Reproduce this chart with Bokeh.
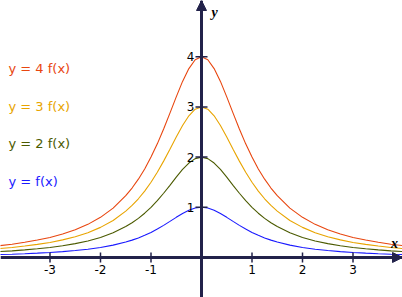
from bokeh.plotting import figure
from bokeh.models import Span, Arrow, NormalHead, Label
from bokeh.core.properties import value
from bokeh.embed import file_html
from bokeh.resources import INLINE

# f(x)
x_vals = [-4, -3.75, -3.5, -3.25, -3, -2.75, -2.5, -2.25, -2, -1.75, -1.5, -1.375, -1.25, -1.125,
          -1, -0.875, -0.75, -0.625, -0.5, -0.375, -0.25, -0.125, 0,
          0.125, 0.25, 0.375, 0.5, 0.625, 0.75, 0.875, 1,
          1.125, 1.25, 1.375, 1.5, 1.75, 2, 2.25, 2.5, 2.75, 3, 3.25, 3.5, 3.75, 4]
f_vals = [0.059, 0.066, 0.076, 0.087, 0.1, 0.117, 0.138, 0.165, 0.2, 0.246, 0.308, 0.346, 0.390, 0.441,
          0.5, 0.566, 0.64, 0.719, 0.8, 0.877, 0.941, 0.985, 1.0,
          0.985, 0.941, 0.877, 0.8, 0.719, 0.64, 0.566, 0.5,
          0.441, 0.390, 0.346, 0.308, 0.246, 0.2, 0.165, 0.138, 0.117, 0.1, 0.087, 0.076, 0.066, 0.059]
multipliers = [4, 3, 2, 1]
series_labels = ["y = 4 f(x)", "y = 3 f(x)", "y = 2 f(x)", "y = f(x)"]
series_colors = ["#e8460f", "#e8a400", "#4b5a00", "#1a1aff"]
x_ticks = [-3, -2, -1, 1, 2, 3]
x_tick_labels = ["-3", "-2", "-1", "1", "2", "3"]
y_ticks = [1, 2, 3, 4]
y_tick_labels = ["1", "2", "3", "4"]

AX = "#22224a"
W, H = 402, 297
p = figure(width=W, height=H, output_backend="svg", toolbar_location=None,
           x_range=(-3.98, 3.98), y_range=(-0.797, 5.12),
           x_axis_type=None, y_axis_type=None, min_border=0,
           background_fill_color="white", border_fill_color="white")
p.outline_line_color = None
p.grid.visible = False

for m, c in zip(multipliers, series_colors):
    p.line(x_vals, [m * v for v in f_vals], line_color=c, line_width=1.1)

# axes
p.add_layout(Span(location=0, dimension="width", line_color=AX, line_width=3))
p.add_layout(Span(location=0, dimension="height", line_color=AX, line_width=3))
p.add_layout(Arrow(end=NormalHead(size=10, fill_color=AX, line_color=AX, line_width=1),
                   x_start=3.7, y_start=0, x_end=3.98, y_end=0, line_alpha=0))
p.add_layout(Arrow(end=NormalHead(size=10, fill_color=AX, line_color=AX, line_width=1),
                   x_start=0, y_start=4.8, x_end=0, y_end=5.12, line_alpha=0))

# ticks
p.scatter(x_ticks, [0] * len(x_ticks), marker="dash", angle=1.5708, size=10,
          line_color=AX, line_width=1.5)
p.scatter([0] * len(y_ticks), y_ticks, marker="dash", size=12,
          line_color=AX, line_width=1.5)
p.text(x_ticks, [0] * len(x_ticks), text=x_tick_labels, text_align="center",
       text_baseline="top", y_offset=8, text_font=value("DejaVu Sans"),
       text_font_size="12px", text_color="black")
p.text([0] * len(y_ticks), y_ticks, text=y_tick_labels, text_align="right",
       text_baseline="middle", x_offset=-7, text_font=value("DejaVu Sans"),
       text_font_size="12px", text_color="black")

# axis names
p.add_layout(Label(x=394, y=297 - 243, x_units="screen", y_units="screen", text="x",
                   text_align="center", text_baseline="middle", text_font="Liberation Serif",
                   text_font_style="bold italic", text_font_size="14px", text_color="black"))
p.add_layout(Label(x=214, y=297 - 12, x_units="screen", y_units="screen", text="y",
                   text_align="center", text_baseline="middle", text_font="Liberation Serif",
                   text_font_style="bold italic", text_font_size="14px", text_color="black"))

# legend labels
legend_y = [229, 191, 154, 116]
for t, c, ly in zip(series_labels, series_colors, legend_y):
    p.add_layout(Label(x=8, y=ly, x_units="screen", y_units="screen", text=t,
                       text_align="left", text_baseline="middle", text_font="DejaVu Sans",
                       text_font_size="13px", text_color=c))

open("out.html", "w").write(file_html(p, INLINE))
